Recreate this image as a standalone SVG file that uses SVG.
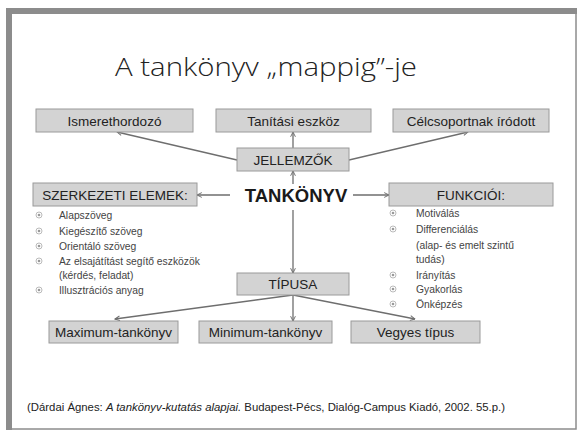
<svg xmlns="http://www.w3.org/2000/svg" width="579" height="432" viewBox="0 0 579 432">
<defs>
<style>
.box{fill:#d3d3d3;stroke:#9a9a9a;stroke-width:1}
.bt{font-family:"Liberation Sans",Arial,sans-serif;font-size:13.5px;fill:#222;text-anchor:middle}
.li{font-family:"Liberation Sans",Arial,sans-serif;font-size:10.3px;fill:#444}
.con{stroke:#6e6e6e;stroke-width:1.3;fill:none;marker-end:url(#ah)}
.bul{fill:none;stroke:#aaa;stroke-width:0.8}
.dot{fill:#999}
</style>
<marker id="ah" viewBox="0 0 10 10" refX="9" refY="5" markerWidth="6" markerHeight="6" orient="auto" markerUnits="userSpaceOnUse">
<path d="M1,1 L9,5 L1,9" fill="none" stroke="#6e6e6e" stroke-width="1.6"/>
</marker>
</defs>
<rect x="0" y="0" width="579" height="432" fill="#ffffff"/>
<rect x="9" y="11" width="567" height="418" fill="#fff" stroke="#8c8c8c" stroke-width="1.5"/>
<rect x="6" y="8" width="571" height="6" fill="#8c8c8c"/>
<rect x="6" y="8" width="6" height="422" fill="#8c8c8c"/>

<text x="115" y="76" font-family="Open Sans,Liberation Sans,Arial,sans-serif" font-weight="300" font-size="25" fill="#222" textLength="302" lengthAdjust="spacingAndGlyphs">A tankönyv „mappig”-je</text>

<g id="connectors">
<line class="con" x1="237" y1="160" x2="117" y2="132"/>
<line class="con" x1="293" y1="148" x2="293" y2="132"/>
<line class="con" x1="349" y1="160" x2="468" y2="132"/>
<line class="con" x1="293" y1="184" x2="293" y2="171"/>
<line class="con" x1="230" y1="195" x2="197" y2="195"/>
<line class="con" x1="353" y1="195" x2="389" y2="195"/>
<line class="con" x1="293" y1="210" x2="293" y2="273"/>
<line class="con" x1="293" y1="295" x2="115" y2="319"/>
<line class="con" x1="293" y1="295" x2="293" y2="321"/>
<line class="con" x1="293" y1="295" x2="415" y2="319"/>
</g>

<g id="ismerethordozo"><rect class="box" x="36" y="109" width="157" height="23"/><text class="bt" x="114.5" y="125.5">Ismerethordozó</text></g>
<g id="tanitasi"><rect class="box" x="216" y="109" width="155" height="23"/><text class="bt" x="293.5" y="125.5">Tanítási eszköz</text></g>
<g id="celcsoport"><rect class="box" x="393" y="109" width="156" height="23"/><text class="bt" x="471" y="125.5">Célcsoportnak íródott</text></g>
<g id="jellemzok"><rect class="box" x="237" y="148" width="112" height="23"/><text class="bt" x="293" y="164.5">JELLEMZŐK</text></g>
<g id="tankonyv"><text x="296" y="202" font-family="Liberation Sans,Arial,sans-serif" font-size="18.5" font-weight="bold" fill="#1a1a1a" text-anchor="middle">TANKÖNYV</text></g>
<g id="szerkezeti"><rect class="box" x="33" y="183" width="164" height="23"/><text class="bt" x="115" y="199.5">SZERKEZETI ELEMEK:</text></g>
<g id="funkcioi"><rect class="box" x="389" y="183" width="164" height="23"/><text class="bt" x="471" y="199.5">FUNKCIÓI:</text></g>
<g id="tipusa"><rect class="box" x="237" y="273" width="112" height="22"/><text class="bt" x="293" y="288.5">TÍPUSA</text></g>
<g id="maximum"><rect class="box" x="49" y="321" width="129" height="22"/><text class="bt" x="113.5" y="336.5">Maximum-tankönyv</text></g>
<g id="minimum"><rect class="box" x="199" y="321" width="133" height="22"/><text class="bt" x="265.5" y="336.5">Minimum-tankönyv</text></g>
<g id="vegyes"><rect class="box" x="351" y="321" width="129" height="22"/><text class="bt" x="415.5" y="336.5">Vegyes típus</text></g>

<g id="szerkezeti-list">
<circle class="bul" cx="39" cy="215" r="3"/><circle class="dot" cx="39" cy="215" r="1.3"/>
<text class="li" x="59" y="219">Alapszöveg</text>
<circle class="bul" cx="39" cy="231" r="3"/><circle class="dot" cx="39" cy="231" r="1.3"/>
<text class="li" x="59" y="235">Kiegészítő szöveg</text>
<circle class="bul" cx="39" cy="246" r="3"/><circle class="dot" cx="39" cy="246" r="1.3"/>
<text class="li" x="59" y="250">Orientáló szöveg</text>
<circle class="bul" cx="39" cy="261" r="3"/><circle class="dot" cx="39" cy="261" r="1.3"/>
<text class="li" x="59" y="265">Az elsajátítást segítő eszközök</text>
<text class="li" x="59" y="279">(kérdés, feladat)</text>
<circle class="bul" cx="39" cy="290" r="3"/><circle class="dot" cx="39" cy="290" r="1.3"/>
<text class="li" x="59" y="294">Illusztrációs anyag</text>
</g>

<g id="funkcioi-list">
<circle class="bul" cx="393" cy="213" r="3"/><circle class="dot" cx="393" cy="213" r="1.3"/>
<text class="li" x="416" y="217">Motiválás</text>
<circle class="bul" cx="393" cy="229" r="3"/><circle class="dot" cx="393" cy="229" r="1.3"/>
<text class="li" x="416" y="233">Differenciálás</text>
<text class="li" x="416" y="249">(alap- és emelt szintű</text>
<text class="li" x="416" y="263">tudás)</text>
<circle class="bul" cx="393" cy="275" r="3"/><circle class="dot" cx="393" cy="275" r="1.3"/>
<text class="li" x="416" y="279">Irányítás</text>
<circle class="bul" cx="393" cy="289" r="3"/><circle class="dot" cx="393" cy="289" r="1.3"/>
<text class="li" x="416" y="293">Gyakorlás</text>
<circle class="bul" cx="393" cy="304" r="3"/><circle class="dot" cx="393" cy="304" r="1.3"/>
<text class="li" x="416" y="308">Önképzés</text>
</g>

<text x="27" y="411" font-family="Liberation Sans,Arial,sans-serif" font-size="11" fill="#222" textLength="478" lengthAdjust="spacingAndGlyphs">(Dárdai Ágnes: <tspan font-style="italic">A tankönyv-kutatás alapjai.</tspan> Budapest-Pécs, Dialóg-Campus Kiadó, 2002. 55.p.)</text>
</svg>
